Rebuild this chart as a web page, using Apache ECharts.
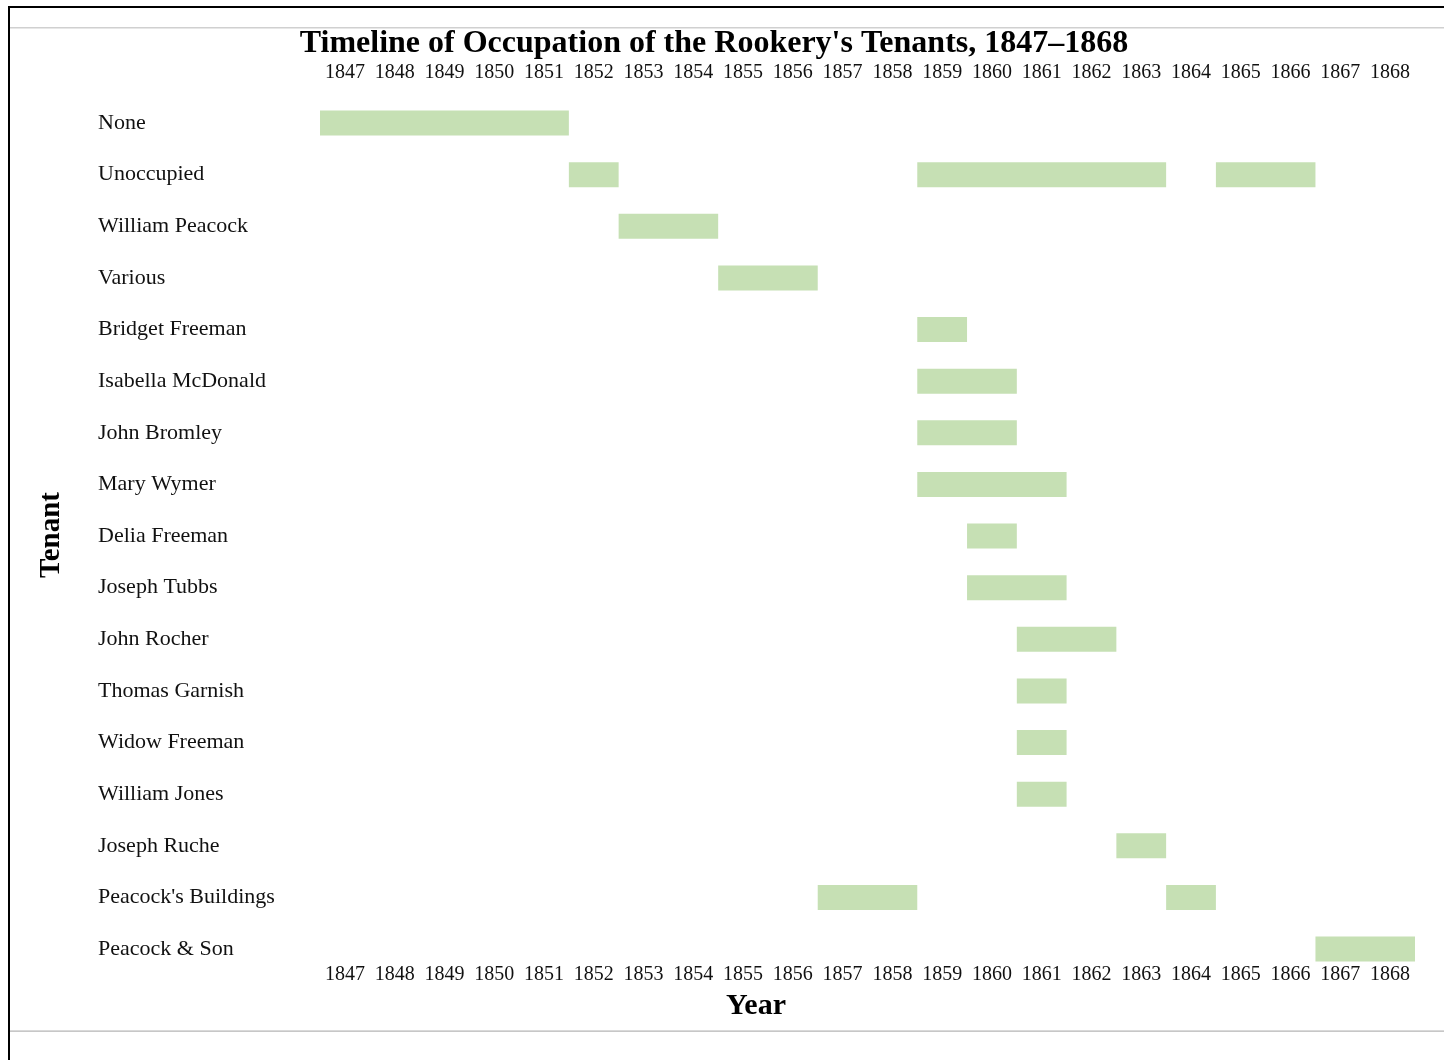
<!DOCTYPE html>
<html>
<head>
<meta charset="utf-8">
<script src="https://cdn.jsdelivr.net/npm/echarts@6/dist/echarts.min.js"></script>
<style>
html,body{margin:0;padding:0;background:#fff;}
#chart{width:1444px;height:1060px;}
</style>
</head>
<body>
<div id="chart"></div>
<script>
// Tenant categories (top to bottom)
var tenants = ["None","Unoccupied","William Peacock","Various","Bridget Freeman","Isabella McDonald","John Bromley","Mary Wymer","Delia Freeman","Joseph Tubbs","John Rocher","Thomas Garnish","Widow Freeman","William Jones","Joseph Ruche","Peacock's Buildings","Peacock & Son"];
// Year tick labels
var yearLabels = ["1847","1848","1849","1850","1851","1852","1853","1854","1855","1856","1857","1858","1859","1860","1861","1862","1863","1864","1865","1866","1867","1868"];
// Occupation periods: tenant, start year, end year (exclusive)
var periodTenant = ["None","Unoccupied","Unoccupied","Unoccupied","William Peacock","Various","Bridget Freeman","Isabella McDonald","John Bromley","Mary Wymer","Delia Freeman","Joseph Tubbs","John Rocher","Thomas Garnish","Widow Freeman","William Jones","Joseph Ruche","Peacock's Buildings","Peacock's Buildings","Peacock & Son"];
var periodStart  = [1847,1852,1859,1865,1853,1855,1859,1859,1859,1859,1860,1860,1861,1861,1861,1861,1863,1857,1864,1867];
var periodEnd    = [1852,1853,1864,1867,1855,1857,1860,1861,1861,1862,1861,1862,1863,1862,1862,1862,1864,1859,1865,1869];

var data = periodTenant.map(function(t,i){ return [tenants.indexOf(t), periodStart[i], periodEnd[i]]; });

var serif = '"Liberation Serif", "DejaVu Serif", serif';
var chart = echarts.init(document.getElementById('chart'), null, {renderer:'canvas'});
chart.setOption({
  backgroundColor:'#ffffff',
  animation:false,
  grid:{left:320, right:29, top:123, bottom:111, containLabel:false},
  xAxis:[
    {type:'value', min:1847, max:1869, show:false, position:'bottom'},
    {type:'category', data:yearLabels, position:'bottom', boundaryGap:true,
     axisLine:{show:false}, axisTick:{show:false}, splitLine:{show:false},
     axisLabel:{margin:16, fontFamily:serif, fontSize:20, color:'#111', interval:0}},
    {type:'category', data:yearLabels, position:'top', boundaryGap:true,
     axisLine:{show:false}, axisTick:{show:false}, splitLine:{show:false},
     axisLabel:{margin:40, fontFamily:serif, fontSize:20, color:'#111', interval:0}}
  ],
  yAxis:{type:'category', data:tenants, inverse:true, boundaryGap:false,
    axisLine:{show:false}, axisTick:{show:false}, splitLine:{show:false},
    axisLabel:{align:'left', margin:222, fontFamily:serif, fontSize:22, color:'#111', interval:0}},
  series:[{
    type:'custom',
    xAxisIndex:0, yAxisIndex:0,
    encode:{x:[1,2], y:0},
    data:data,
    renderItem:function(params, api){
      var s = api.coord([api.value(1), api.value(0)]);
      var e = api.coord([api.value(2), api.value(0)]);
      var h = 25;
      return {type:'rect', shape:{x:s[0], y:s[1]-h/2, width:e[0]-s[0], height:h},
        style:{fill:'#c6e0b4'}};
    }
  }],
  graphic:[
    {type:'rect', shape:{x:9, y:6, width:1440, height:2}, style:{fill:'#000'}, z:10},
    {type:'rect', shape:{x:8, y:6, width:2, height:1060}, style:{fill:'#000'}, z:10},
    {type:'rect', shape:{x:10, y:27, width:1440, height:1.5}, style:{fill:'#d0d0d0'}},
    {type:'rect', shape:{x:10, y:1030.5, width:1440, height:1.2}, style:{fill:'#b4b4b4'}},
    {type:'text', x:714, y:44, style:{text:"Timeline of Occupation of the Rookery's Tenants, 1847\u20131868",
      font:'bold 32px '+serif, fill:'#000', textAlign:'center', textVerticalAlign:'middle'}},
    {type:'text', x:756, y:1006, style:{text:'Year', font:'bold 30px '+serif, fill:'#000',
      textAlign:'center', textVerticalAlign:'middle'}},
    {type:'text', x:52, y:535, rotation:Math.PI/2, style:{text:'Tenant', font:'bold 29px '+serif, fill:'#000',
      textAlign:'center', textVerticalAlign:'middle'}}
  ]
});
</script>
</body>
</html>
